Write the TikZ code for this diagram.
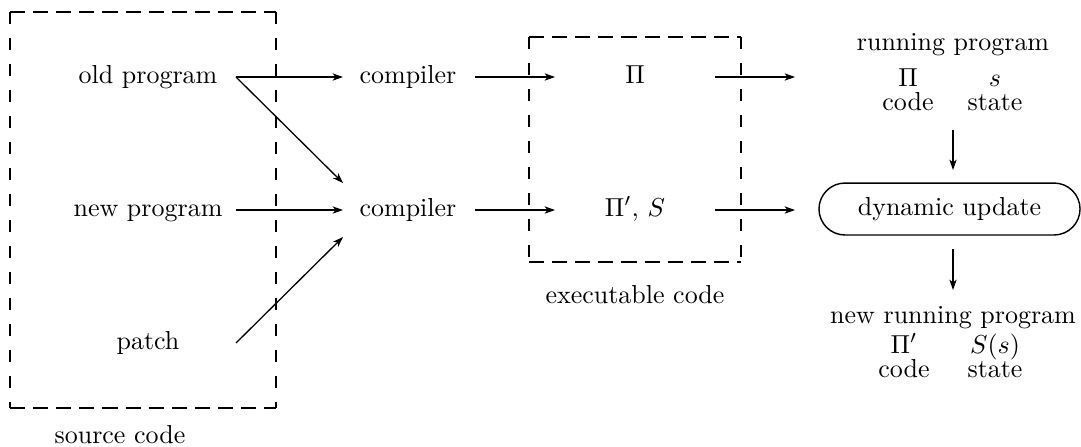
\documentclass[tikz,border=0pt]{standalone}
\usetikzlibrary{arrows.meta,shapes.misc}
\begin{document}
\begin{tikzpicture}[x=0.385pt,y=-0.385pt,
  txt/.style={inner sep=0pt, anchor=base},
  arr/.style={-{Stealth[length=4pt,width=2.8pt,inset=1.1pt]}, line width=0.5pt},
  dh/.style={dash pattern=on 5.8pt off 3.1pt, line width=0.85pt},
  dv/.style={dash pattern=on 4.8pt off 5.2pt, line width=0.85pt},
  dyn/.style={rounded rectangle, draw, line width=0.55pt, minimum width=100.5pt, minimum height=20pt, inner sep=0pt}]
\useasboundingbox (0,0) rectangle (1081,446);
% dashed boxes
\draw[dh] (10,12) -- (276,12);
\draw[dh] (10,408) -- (276,408);
\draw[dv] (10,12) -- (10,408);
\draw[dv] (276,12) -- (276,408);
\draw[dh] (529,37) -- (741,37);
\draw[dh] (529,262) -- (741,262);
\draw[dv] (529,37) -- (529,262);
\draw[dv] (741,37) -- (741,262);
\node[txt] (srclbl) at (120,443) {source code};
\node[txt] (exelbl) at (635,303) {executable code};
% source
\node[txt] (old) at (148,83) {old program};
\node[txt] (new) at (148,216) {new program};
\node[txt] (patch) at (148,349) {patch};
% compilers
\node[txt] (c1) at (408,83) {compiler};
\node[txt] (c2) at (408,216) {compiler};
% executable
\node[txt] (pi) at (635,83) {$\Pi$};
\node[txt] (pis) at (635,216) {$\Pi'$, $S$};
% running program
\node[txt] (rp) at (953,50) {running program};
\node[txt] (rpi) at (908,86) {$\Pi$};
\node[txt] (rs) at (995,86) {$s$};
\node[txt] (rcode) at (908,110) {code};
\node[txt] (rstate) at (995,110) {state};
% dynamic update
\node[dyn] (dyn) at (949.5,209) {dynamic update};
% new running program
\node[txt] (nrp) at (953,323) {new running program};
\node[txt] (npi) at (904,353) {$\Pi'$};
\node[txt] (ns) at (995,353) {$S(s)$};
\node[txt] (ncode) at (904,377) {code};
\node[txt] (nstate) at (995,377) {state};
% connector ends
\coordinate (oldE) at (236,77);
\coordinate (newE) at (236,210);
\coordinate (patchE) at (236,343);
\coordinate (c1W) at (343,77);
\coordinate (c2NW) at (343,183);
\coordinate (c2W) at (343,210);
\coordinate (c2SW) at (343,237);
\coordinate (c1E) at (475,77);
\coordinate (c2E) at (475,210);
\coordinate (piW) at (555,77);
\coordinate (pisW) at (555,210);
\coordinate (piE) at (715,77);
\coordinate (pisE) at (715,210);
\coordinate (rpW) at (795,77);
\coordinate (dynW) at (795,210);
\coordinate (rpS) at (953,130);
\coordinate (dynN) at (953,170);
\coordinate (dynS) at (953,249);
\coordinate (nrpN) at (953,290);
% connectors
\draw[arr] (oldE) -- (c1W);
\draw[arr] (oldE) -- (c2NW);
\draw[arr] (newE) -- (c2W);
\draw[arr] (patchE) -- (c2SW);
\draw[arr] (c1E) -- (piW);
\draw[arr] (c2E) -- (pisW);
\draw[arr] (piE) -- (rpW);
\draw[arr] (pisE) -- (dynW);
\draw[arr] (rpS) -- (dynN);
\draw[arr] (dynS) -- (nrpN);
\end{tikzpicture}
\end{document}
